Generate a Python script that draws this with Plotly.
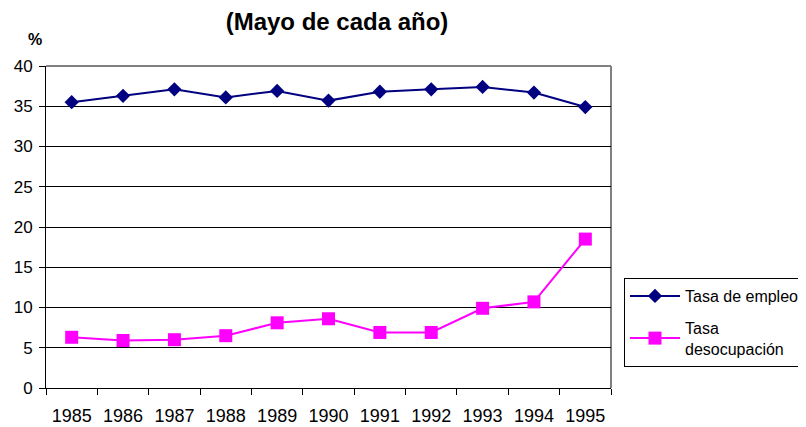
import plotly.graph_objects as go

years = ["1985", "1986", "1987", "1988", "1989", "1990", "1991", "1992", "1993", "1994", "1995"]
tasa_empleo = [35.5, 36.3, 37.1, 36.1, 36.9, 35.7, 36.8, 37.1, 37.4, 36.7, 34.9]
tasa_desocupacion = [6.3, 5.9, 6.0, 6.5, 8.1, 8.6, 6.9, 6.9, 9.9, 10.7, 18.5]
y_ticks = [0, 5, 10, 15, 20, 25, 30, 35, 40]

FONT = "Liberation Sans, Arial, sans-serif"
# the page body has an 8px margin, so the figure is drawn 8px smaller
W, H = 798, 419

fig = go.Figure()
fig.add_trace(go.Scatter(
    x=years, y=tasa_empleo, name="Tasa de empleo", mode="lines+markers",
    line=dict(color="#000080", width=2),
    marker=dict(symbol="diamond", size=11, color="#000080"),
    legendgroup="a",
))
fig.add_trace(go.Scatter(
    x=years, y=tasa_desocupacion, name="Tasa<br>desocupación", mode="lines+markers",
    line=dict(color="#FF00FF", width=2),
    marker=dict(symbol="square", size=13, color="#FF00FF"),
    legendgroup="b",
))

# gray plot-area frame (top and right)
fig.add_shape(type="line", xref="paper", yref="paper", x0=0, x1=1, y0=1, y1=1,
              line=dict(color="#808080", width=2), layer="between")
fig.add_shape(type="line", xref="paper", yref="paper", x0=1, x1=1, y0=0, y1=1,
              line=dict(color="#808080", width=2), layer="between")

fig.update_layout(
    width=W, height=H,
    margin=dict(l=38, r=195, t=58, b=39),
    paper_bgcolor="white", plot_bgcolor="white",
    font=dict(family=FONT, color="black", size=17),
    title=dict(text="<b>(Mayo de cada año)</b>", x=329 / W, xanchor="center",
               y=1 - 14 / H, yanchor="middle",
               font=dict(family=FONT, size=24, color="black")),
    showlegend=True,
    legend=dict(
        x=616 / W, xref="container", xanchor="left",
        y=1 - 270 / H, yref="container", yanchor="top",
        bordercolor="black", borderwidth=1, bgcolor="white",
        font=dict(family=FONT, size=16, color="black"),
        traceorder="grouped", tracegroupgap=8,
        itemwidth=50,
    ),
    xaxis=dict(
        type="category", showgrid=False, showline=True, linecolor="black", linewidth=1,
        ticks="outside", tickson="boundaries", ticklen=6, tickcolor="black",
        ticklabelstandoff=11, automargin=False,
        tickfont=dict(size=18), range=[-0.5, 10.5],
    ),
    yaxis=dict(
        range=[0, 40], tickvals=y_ticks, showgrid=True, gridcolor="black", gridwidth=1,
        showline=True, linecolor="black", linewidth=1, zeroline=False,
        ticks="outside", ticklen=6, tickcolor="black", ticklabelstandoff=3,
        automargin=False, tickfont=dict(size=17),
    ),
    annotations=[dict(text="<b>%</b>", xref="paper", yref="paper",
                      x=(35 - 46) / 565, y=(388 - 40) / 322, showarrow=False,
                      xanchor="center", yanchor="middle",
                      font=dict(family=FONT, size=16, color="black"))],
)

fig.write_html("out.html")
